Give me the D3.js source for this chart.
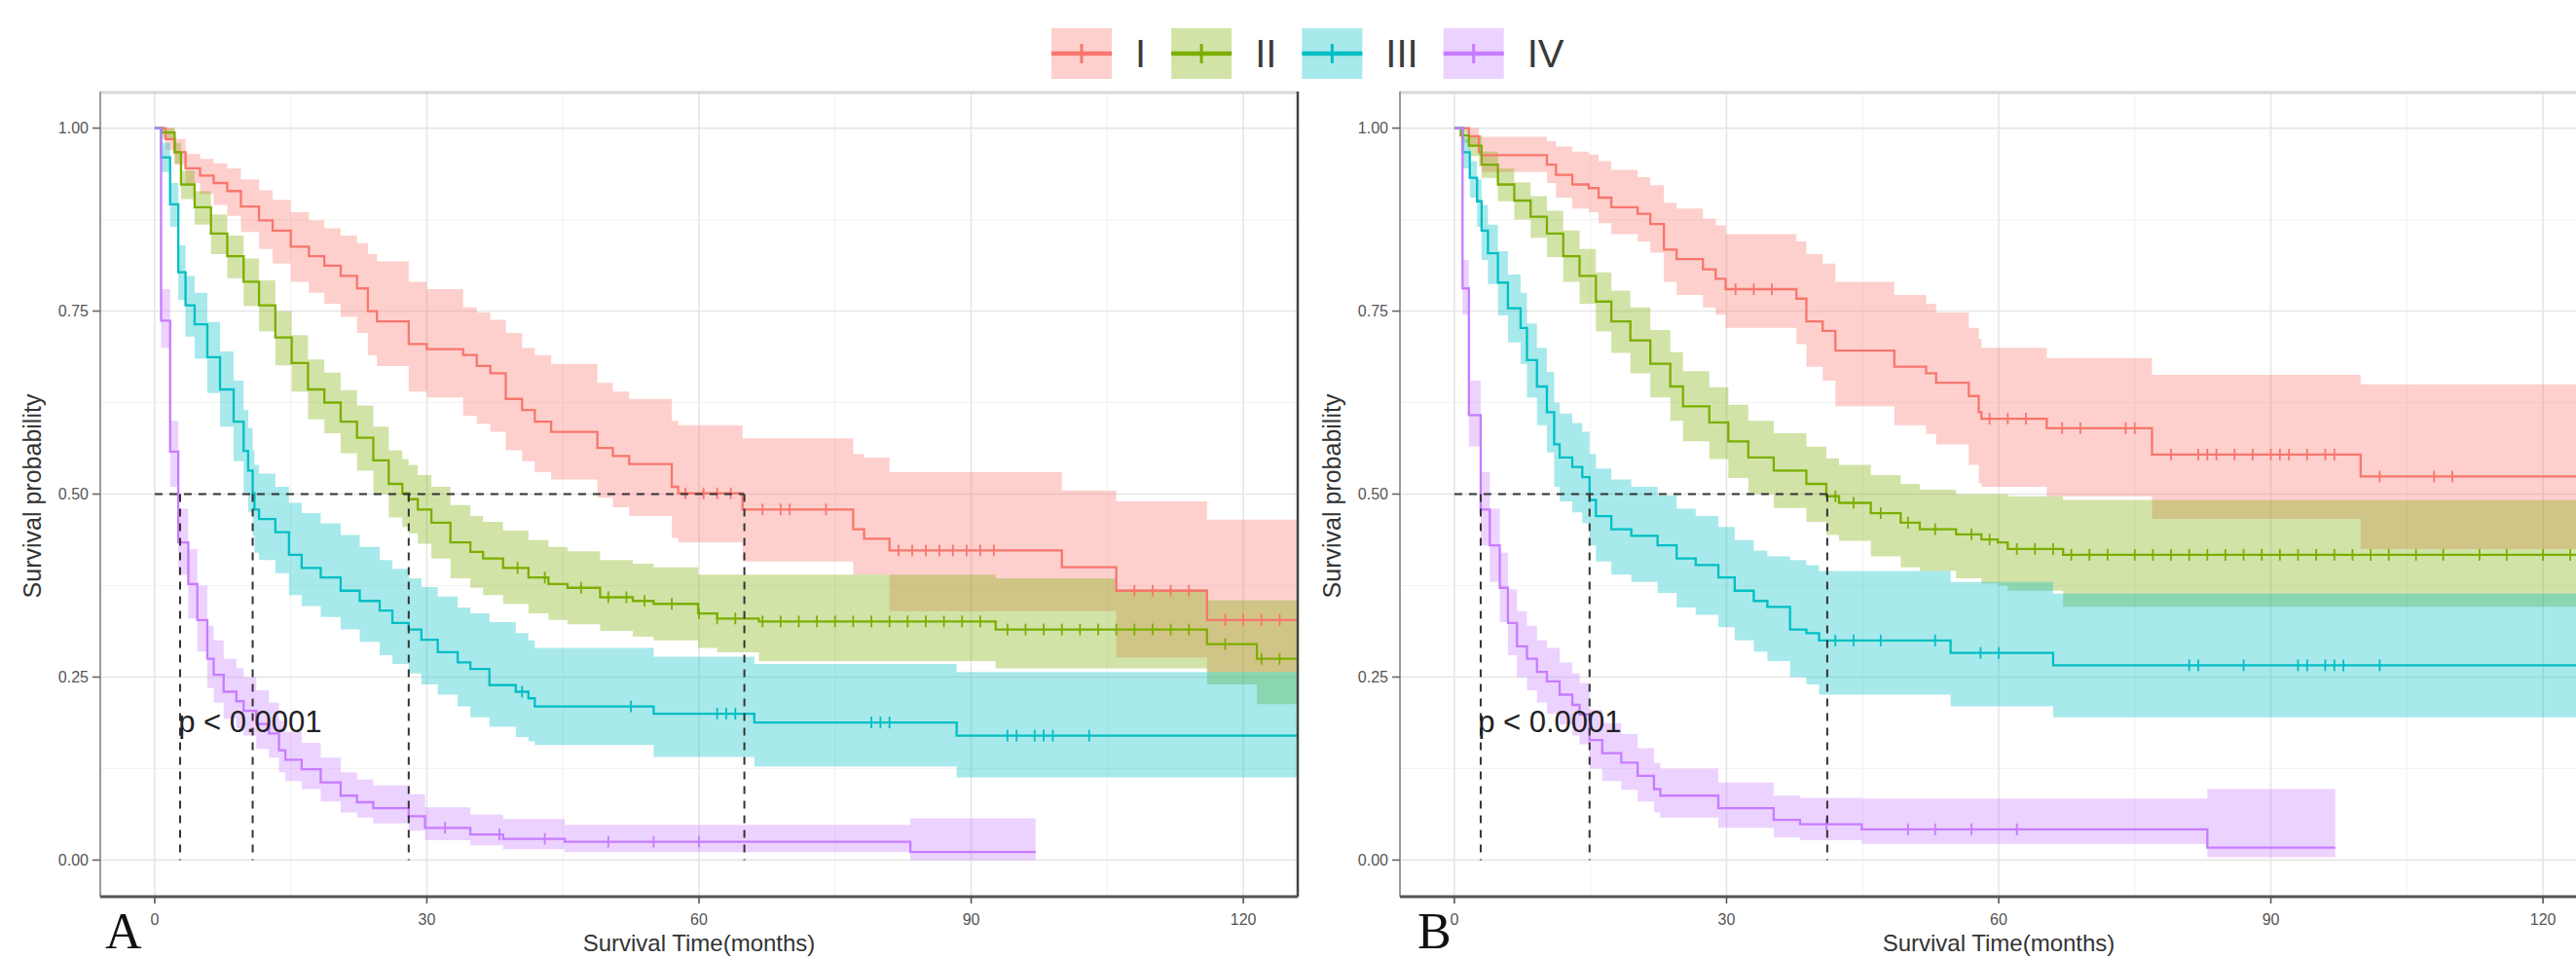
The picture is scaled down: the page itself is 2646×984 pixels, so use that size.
<!DOCTYPE html>
<html><head><meta charset="utf-8">
<script src="https://cdn.jsdelivr.net/npm/d3@7"></script>
<style>body{margin:0;background:#fff;} svg{display:block}</style>
</head><body>
<svg id="chart" width="2646" height="984"></svg>
<script>
// ---------------- DATA ----------------
const groups = ["I", "II", "III", "IV"];
const lineColors = ["#F8766D", "#7CAE00", "#00BFC4", "#C77CFF"];
const xTicks = [0, 30, 60, 90, 120];
const xMinor = [15, 45, 75, 105];
const yTicks = [0, 0.25, 0.5, 0.75, 1];
const yMinor = [0.125, 0.375, 0.625, 0.875];
const yTickLabels = ["0.00", "0.25", "0.50", "0.75", "1.00"];
const xTitle = "Survival Time(months)";
const yTitle = "Survival probability";
const pText = "p < 0.0001";
const panelLetters = ["A", "B"];

// rows: [time (months), survival, lower CI, upper CI]
const A_I = [
[0,1,1,1],[1.2,0.985,0.97,1.0],[2.2,0.967,0.95,0.985],[3.4,0.945,0.925,0.965],[5,0.935,0.91,0.958],
[6.5,0.925,0.895,0.952],[8,0.914,0.88,0.945],[9.5,0.893,0.858,0.93],[11.5,0.874,0.835,0.915],[13,0.86,0.815,0.902],
[15,0.838,0.79,0.885],[17,0.825,0.775,0.874],[18.7,0.812,0.76,0.863],[20.5,0.798,0.742,0.853],[22.3,0.781,0.72,0.843],
[23.5,0.75,0.69,0.828],[24.5,0.736,0.675,0.818],[28,0.705,0.64,0.79],[30,0.698,0.632,0.78],[34,0.69,0.607,0.755],
[35.5,0.675,0.596,0.748],[37,0.665,0.585,0.738],[38.7,0.63,0.56,0.72],[40.5,0.615,0.545,0.70],[41.9,0.599,0.53,0.69],
[43.7,0.585,0.52,0.678],[48.8,0.563,0.495,0.652],[50.5,0.552,0.482,0.64],[52.3,0.541,0.47,0.63],[57,0.51,0.44,0.60],
[57.7,0.501,0.434,0.594],[64.8,0.479,0.408,0.576],[77,0.452,0.39,0.555],[78.2,0.439,0.39,0.55],[81,0.423,0.34,0.53],
[100,0.40,0.34,0.505],[106,0.368,0.277,0.49],[116,0.328,0.257,0.465],[126,0.328,0.257,0.465]
];
const A_II = [
[0,1,1,1],[0.8,0.994,0.985,1.0],[2.2,0.967,0.952,0.98],[2.9,0.923,0.903,0.942],[4.4,0.892,0.868,0.914],
[6.2,0.856,0.828,0.882],[8,0.825,0.795,0.853],[9.8,0.79,0.757,0.822],[11.5,0.758,0.722,0.792],[13.3,0.714,0.676,0.75],
[15.1,0.679,0.64,0.717],[16.9,0.643,0.602,0.684],[18.7,0.625,0.583,0.666],[20.5,0.599,0.556,0.642],[22.3,0.577,0.532,0.621],
[24.1,0.546,0.50,0.592],[25.8,0.514,0.468,0.56],[27.3,0.501,0.455,0.548],[28,0.493,0.446,0.54],[29,0.479,0.432,0.526],
[30.5,0.461,0.412,0.51],[32.6,0.434,0.385,0.485],[34.8,0.421,0.372,0.47],[36.2,0.412,0.362,0.462],[38.4,0.399,0.35,0.45],
[41.2,0.386,0.337,0.437],[43.4,0.377,0.328,0.428],[45.5,0.372,0.322,0.422],[49.1,0.359,0.313,0.41],[52.7,0.354,0.305,0.405],
[55,0.35,0.30,0.40],[59.9,0.337,0.29,0.39],[62,0.33,0.284,0.39],[66.6,0.326,0.272,0.39],[92.7,0.315,0.262,0.385],
[106,0.315,0.262,0.37],[116,0.295,0.24,0.355],[121.5,0.275,0.213,0.355],[126,0.275,0.213,0.355]
];
const A_III = [
[0,1,1,1],[0.7,0.96,0.94,0.98],[1.7,0.896,0.865,0.925],[2.6,0.803,0.765,0.84],[3.4,0.758,0.715,0.798],
[4.4,0.732,0.685,0.775],[5.8,0.687,0.638,0.735],[7.2,0.643,0.592,0.695],[8.7,0.599,0.545,0.655],[9.8,0.559,0.502,0.615],
[10.3,0.532,0.475,0.59],[10.8,0.501,0.443,0.56],[11,0.479,0.42,0.54],[11.5,0.466,0.41,0.528],[13.3,0.448,0.392,0.51],
[14.8,0.417,0.362,0.488],[16.2,0.399,0.347,0.474],[18.3,0.386,0.332,0.46],[20.5,0.368,0.315,0.444],[22.6,0.354,0.298,0.428],
[24.8,0.341,0.28,0.41],[26.2,0.324,0.268,0.398],[28,0.315,0.255,0.385],[29.4,0.301,0.24,0.373],[31.2,0.284,0.226,0.36],
[33.4,0.27,0.21,0.345],[34.8,0.261,0.195,0.337],[36.9,0.239,0.182,0.325],[39.8,0.23,0.168,0.31],[41.2,0.221,0.162,0.30],
[41.9,0.21,0.157,0.29],[55,0.20,0.141,0.278],[66.1,0.188,0.128,0.268],[88.4,0.17,0.113,0.257],[126,0.17,0.113,0.257]
];
const A_IV = [
[0,1,1,1],[0.7,0.737,0.70,0.78],[1.7,0.558,0.51,0.60],[2.6,0.434,0.39,0.48],[3.7,0.377,0.33,0.425],
[4.7,0.328,0.285,0.375],[5.8,0.275,0.235,0.32],[6.5,0.253,0.215,0.30],[7.6,0.23,0.193,0.275],[9.0,0.217,0.18,0.262],
[9.8,0.204,0.17,0.25],[11.2,0.186,0.152,0.232],[12.6,0.173,0.14,0.215],[13.7,0.15,0.12,0.19],[14.4,0.137,0.108,0.175],
[16.2,0.124,0.097,0.16],[18.3,0.106,0.08,0.14],[20.5,0.088,0.065,0.12],[22.3,0.079,0.058,0.11],[24.1,0.071,0.05,0.102],
[28,0.06,0.04,0.09],[29.8,0.044,0.027,0.072],[34.8,0.035,0.02,0.062],[38.4,0.029,0.015,0.056],[45.2,0.025,0.011,0.048],
[83.3,0.011,0.0,0.057],[97.1,0.011,0.0,0.057]
];
const B_I = [
[0,1,1,1],[1.6,0.989,0.975,1.0],[2.7,0.967,0.948,0.99],[3.0,0.963,0.94,0.988],[10.2,0.95,0.925,0.982],
[11.2,0.936,0.905,0.975],[13,0.923,0.89,0.968],[14.8,0.918,0.885,0.964],[15.9,0.905,0.87,0.955],[17.3,0.892,0.855,0.943],
[20.2,0.883,0.845,0.933],[21.6,0.869,0.83,0.922],[23.1,0.834,0.79,0.898],[24.5,0.821,0.772,0.89],[27.4,0.807,0.755,0.876],
[28.8,0.794,0.745,0.867],[29.9,0.78,0.727,0.855],[37.7,0.767,0.705,0.845],[38.8,0.736,0.674,0.828],[40.6,0.723,0.655,0.815],
[42,0.696,0.62,0.79],[48.5,0.674,0.594,0.772],[52,0.665,0.582,0.76],[53.1,0.652,0.568,0.748],[56.7,0.634,0.54,0.727],
[57.8,0.612,0.515,0.712],[58.1,0.603,0.51,0.70],[65.3,0.59,0.497,0.686],[76.9,0.554,0.466,0.663],[99.9,0.524,0.425,0.65],
[126,0.524,0.425,0.65]
];
const B_II = [
[0,1,1,1],[0.7,0.99,0.98,1.0],[1.6,0.976,0.962,0.99],[3,0.95,0.932,0.968],[4.8,0.923,0.90,0.945],
[6.6,0.901,0.875,0.926],[8.4,0.879,0.85,0.907],[10.2,0.856,0.824,0.887],[12,0.825,0.79,0.86],[13.8,0.798,0.76,0.835],
[15.6,0.763,0.722,0.803],[17.3,0.736,0.693,0.778],[19.4,0.71,0.665,0.755],[21.6,0.678,0.632,0.724],[23.8,0.647,0.60,0.694],
[25.2,0.62,0.572,0.668],[28.1,0.598,0.548,0.646],[30.2,0.572,0.522,0.622],[32.4,0.55,0.50,0.60],[35.2,0.532,0.481,0.583],
[38.8,0.514,0.462,0.565],[41,0.497,0.444,0.549],[42.4,0.488,0.436,0.54],[45.9,0.474,0.415,0.526],[49.2,0.461,0.40,0.514],
[51.3,0.452,0.395,0.506],[55.3,0.445,0.385,0.50],[58.1,0.438,0.378,0.50],[59.9,0.434,0.375,0.50],[61,0.425,0.368,0.497],
[67.1,0.417,0.346,0.492],[126,0.417,0.346,0.492]
];
const B_III = [
[0,1,1,1],[0.9,0.967,0.945,0.985],[1.7,0.932,0.905,0.955],[2.5,0.90,0.865,0.93],[3,0.86,0.82,0.895],
[3.7,0.829,0.787,0.868],[4.8,0.789,0.744,0.832],[5.9,0.754,0.707,0.80],[7.3,0.727,0.678,0.775],[8,0.683,0.632,0.733],
[9.1,0.647,0.594,0.70],[10.2,0.612,0.557,0.667],[11,0.568,0.51,0.625],[11.6,0.55,0.49,0.61],[13,0.537,0.475,0.597],
[14.1,0.523,0.46,0.585],[14.9,0.492,0.43,0.555],[15.6,0.47,0.408,0.535],[17.3,0.452,0.39,0.52],[19.5,0.443,0.38,0.51],
[22.4,0.43,0.365,0.498],[24.5,0.412,0.345,0.48],[26.6,0.403,0.335,0.47],[29.1,0.386,0.318,0.455],[30.9,0.368,0.30,0.437],
[33,0.354,0.285,0.423],[34.5,0.346,0.272,0.415],[37,0.315,0.25,0.41],[38.8,0.31,0.24,0.403],[40.2,0.30,0.226,0.395],
[54.7,0.283,0.21,0.38],[66,0.266,0.195,0.364],[126,0.266,0.195,0.364]
];
const B_IV = [
[0,1,1,1],[0.9,0.781,0.745,0.82],[1.6,0.608,0.565,0.655],[2.9,0.479,0.43,0.53],[3.9,0.43,0.38,0.48],
[5,0.372,0.325,0.42],[5.9,0.324,0.28,0.37],[6.9,0.292,0.25,0.34],[8,0.275,0.232,0.32],[9.1,0.257,0.215,0.30],
[10.2,0.244,0.20,0.29],[11.6,0.226,0.185,0.27],[13,0.212,0.17,0.255],[13.8,0.199,0.158,0.242],[14.9,0.164,0.125,0.205],
[16.3,0.146,0.108,0.187],[18.4,0.133,0.096,0.172],[20.2,0.115,0.08,0.153],[22,0.097,0.065,0.133],[22.7,0.088,0.058,0.125],
[29.1,0.071,0.044,0.106],[35.2,0.055,0.031,0.088],[38.1,0.049,0.027,0.085],[44.9,0.042,0.022,0.084],[83,0.017,0.004,0.097],
[97.1,0.017,0.004,0.097]
];

// censoring times (months)
const censA_I = [58.5,60.5,62,63.5,67,69,70,74,82,83.5,85,86.5,88,89.5,91,92.5,108,110,112,114,118,120,122,124];
const censA_II = [40,43,47,50,52,54,57,60,62,64,67,69,71,73,75,77,79,81,83,85,87,89,91,94,96,98,100,102,104,106,108,110,112,114,118,122,124];
const censA_III = [40.5,52.5,62,63,64,79,80,81,94,95,97,98,99,103];
const censA_IV = [32,38,43,50,55,60];
const censB_I = [31,33,35,59,61,63,67,69,74,75,79,82,83,84,86,88,90,91,92,94,96,97,102,108,110];
const censB_II = [42,44,47,50,53,57,59,62,64,66,68,70,72,75,77,79,81,83,85,87,89,91,93,95,97,99,101,103,106,109,113,116,120,123];
const censB_III = [42,44,47,53,58,60,81,82,87,93,94,96,97,98,102];
const censB_IV = [41,50,53,57,62];

// median survival times per group (I, II, III, IV); null = not reached
const mediansA = [65.0, 28.0, 10.8, 2.8];
const mediansB = [null, 41.1, 14.9, 2.9];

// ---------------- LAYOUT ----------------
const svg = d3.select("#chart");
const panelShift = 1335;
const pL = 103, pR = 1333, pT = 94, pB = 921;
const letterX = [108, 1456];
const y = d3.scaleLinear().domain([-0.05, 1.05]).range([pB, pT]);
const FONT = "'Liberation Sans', Arial, sans-serif";

const panels = [
  {series: [A_I, A_II, A_III, A_IV], cens: [censA_I, censA_II, censA_III, censA_IV], med: mediansA},
  {series: [B_I, B_II, B_III, B_IV], cens: [censB_I, censB_II, censB_III, censB_IV], med: mediansB}
];

panels.forEach((P, pi) => {
  const off = pi * panelShift;
  const x = d3.scaleLinear().domain([-6, 126]).range([pL + off, pR + off]);
  const g = svg.append("g");
  const clipId = "clip" + pi;
  svg.append("clipPath").attr("id", clipId).append("rect")
    .attr("x", pL + off).attr("y", pT).attr("width", pR - pL).attr("height", pB - pT);

  // grid
  g.selectAll(".gxm").data(xMinor).enter().append("line")
    .attr("x1", d => x(d)).attr("x2", d => x(d)).attr("y1", pT).attr("y2", pB)
    .attr("stroke", "#f3f3f3").attr("stroke-width", 1.2);
  g.selectAll(".gym").data(yMinor).enter().append("line")
    .attr("x1", pL + off).attr("x2", pR + off).attr("y1", d => y(d)).attr("y2", d => y(d))
    .attr("stroke", "#f3f3f3").attr("stroke-width", 1.2);
  g.selectAll(".gx").data(xTicks).enter().append("line")
    .attr("x1", d => x(d)).attr("x2", d => x(d)).attr("y1", pT).attr("y2", pB)
    .attr("stroke", "#e6e6e6").attr("stroke-width", 1.6);
  g.selectAll(".gy").data(yTicks).enter().append("line")
    .attr("x1", pL + off).attr("x2", pR + off).attr("y1", d => y(d)).attr("y2", d => y(d))
    .attr("stroke", "#e6e6e6").attr("stroke-width", 1.6);

  const plot = g.append("g").attr("clip-path", `url(#${clipId})`);
  const area = d3.area().curve(d3.curveStepAfter)
    .x(d => x(d[0])).y0(d => y(d[2])).y1(d => y(d[3]));
  const line = d3.line().curve(d3.curveStepAfter)
    .x(d => x(d[0])).y(d => y(d[1]));

  P.series.forEach((s, i) => {
    plot.append("path").attr("d", area(s)).attr("fill", lineColors[i]).attr("fill-opacity", 0.34);
  });
  P.series.forEach((s, i) => {
    plot.append("path").attr("d", line(s)).attr("fill", "none")
      .attr("stroke", lineColors[i]).attr("stroke-width", 2.3);
    const survAt = t => { let v = s[0][1]; for (const r of s) { if (r[0] <= t) v = r[1]; } return v; };
    plot.selectAll(null).data(P.cens[i]).enter().append("line")
      .attr("x1", d => x(d)).attr("x2", d => x(d))
      .attr("y1", d => y(survAt(d)) - 6).attr("y2", d => y(survAt(d)) + 6)
      .attr("stroke", lineColors[i]).attr("stroke-width", 1.8);
  });

  // median lines
  const meds = P.med.filter(m => m !== null);
  const maxMed = d3.max(meds);
  plot.append("line").attr("x1", x(0)).attr("x2", x(maxMed)).attr("y1", y(0.5)).attr("y2", y(0.5))
    .attr("stroke", "#333").attr("stroke-width", 2).attr("stroke-dasharray", "8,7");
  plot.selectAll(null).data(meds).enter().append("line")
    .attr("x1", d => x(d)).attr("x2", d => x(d)).attr("y1", y(0.5)).attr("y2", y(0))
    .attr("stroke", "#333").attr("stroke-width", 2).attr("stroke-dasharray", "8,7");

  // p-value
  g.append("text").attr("x", x(2.6)).attr("y", y(0.175)).text(pText)
    .attr("font-family", FONT).attr("font-size", 31).attr("fill", "#222");

  // borders / axes
  g.append("line").attr("x1", pL + off).attr("x2", pR + off).attr("y1", pT + 1).attr("y2", pT + 1)
    .attr("stroke", "#d8d8d8").attr("stroke-width", 3);
  g.append("line").attr("x1", pL + off).attr("x2", pL + off).attr("y1", pT).attr("y2", pB)
    .attr("stroke", "#9a9a9a").attr("stroke-width", 2);
  g.append("line").attr("x1", pR + off).attr("x2", pR + off).attr("y1", pT).attr("y2", pB)
    .attr("stroke", "#444").attr("stroke-width", 2.5);
  g.append("line").attr("x1", pL + off).attr("x2", pR + off).attr("y1", pB).attr("y2", pB)
    .attr("stroke", "#555").attr("stroke-width", 3);

  // y ticks
  g.selectAll(null).data(yTicks).enter().append("line")
    .attr("x1", pL + off - 8).attr("x2", pL + off).attr("y1", d => y(d)).attr("y2", d => y(d))
    .attr("stroke", "#666").attr("stroke-width", 1.6);
  g.selectAll(null).data(yTicks).enter().append("text")
    .attr("x", pL + off - 12).attr("y", d => y(d)).attr("dy", "0.35em")
    .attr("text-anchor", "end").attr("font-family", FONT).attr("font-size", 16)
    .attr("fill", "#555").text((d, i) => yTickLabels[i]);
  // x ticks
  g.selectAll(null).data(xTicks).enter().append("line")
    .attr("x1", d => x(d)).attr("x2", d => x(d)).attr("y1", pB).attr("y2", pB + 7)
    .attr("stroke", "#555").attr("stroke-width", 1.6);
  g.selectAll(null).data(xTicks).enter().append("text")
    .attr("x", d => x(d)).attr("y", pB + 29).attr("text-anchor", "middle")
    .attr("font-family", FONT).attr("font-size", 16).attr("fill", "#555").text(d => d);

  // axis titles
  g.append("text").attr("x", (pL + pR) / 2 + off).attr("y", 977).attr("text-anchor", "middle")
    .attr("font-family", FONT).attr("font-size", 24).attr("fill", "#333").text(xTitle);
  g.append("text").attr("transform", `translate(${33 + off},${(pT + pB) / 2 + 2}) rotate(-90)`)
    .attr("text-anchor", "middle").attr("dy", "0.35em")
    .attr("font-family", FONT).attr("font-size", 25).attr("fill", "#333").text(yTitle);

  // panel letter
  g.append("text").attr("x", letterX[pi]).attr("y", 974)
    .attr("font-family", "'Liberation Serif', 'Times New Roman', serif").attr("font-size", 52)
    .attr("fill", "#111").text(panelLetters[pi]);
});

// ---------------- LEGEND ----------------
const leg = svg.append("g");
let cx = 1080;
const boxW = 62, boxH = 52, boxY = 29;
groups.forEach((name, i) => {
  leg.append("rect").attr("x", cx).attr("y", boxY).attr("width", boxW).attr("height", boxH)
    .attr("fill", lineColors[i]).attr("fill-opacity", 0.34);
  leg.append("line").attr("x1", cx).attr("x2", cx + boxW).attr("y1", boxY + boxH / 2).attr("y2", boxY + boxH / 2)
    .attr("stroke", lineColors[i]).attr("stroke-width", 4.5);
  leg.append("line").attr("x1", cx + boxW / 2).attr("x2", cx + boxW / 2)
    .attr("y1", boxY + boxH / 2 - 10).attr("y2", boxY + boxH / 2 + 10)
    .attr("stroke", lineColors[i]).attr("stroke-width", 3);
  const t = leg.append("text").attr("x", cx + boxW + 24).attr("y", boxY + boxH / 2 + 14)
    .attr("font-family", FONT).attr("font-size", 40).attr("fill", "#3a3a3a").text(name);
  const w = t.node().getComputedTextLength();
  cx = cx + boxW + 24 + w + 26;
});
</script>
</body></html>
